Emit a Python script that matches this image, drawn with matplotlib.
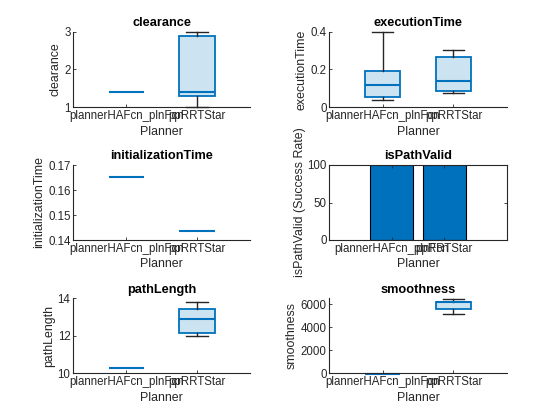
import matplotlib
matplotlib.use("Agg")
import matplotlib.pyplot as plt

plt.rcParams['font.family'] = ['Liberation Sans', 'DejaVu Sans']

planners = ["plannerHAFcn_plnFcn", "ppRRTStar"]

# box stats per metric: [min, q1, median, q3, max] per planner
clearance_stats = [[1.4, 1.4, 1.4, 1.4, 1.4], [1.0, 1.29, 1.40, 2.88, 3.0]]
execution_stats = [[0.037, 0.055, 0.12, 0.194, 0.40], [0.077, 0.086, 0.139, 0.268, 0.303]]
init_stats = [[0.1653, 0.1653, 0.1653, 0.1653, 0.1653], [0.1436, 0.1436, 0.1436, 0.1436, 0.1436]]
pathlength_stats = [[10.29, 10.29, 10.29, 10.29, 10.29], [11.99, 12.14, 12.89, 13.43, 13.81]]
smoothness_stats = [[-30, -30, -30, -30, -30], [5143, 5540, 6150, 6220, 6480]]
success_rate = [100, 100]

W, H = 560, 420
fig = plt.figure(figsize=(W / 100, H / 100), dpi=100)

BLUE = '#0072BD'
FACE = '#CCE3F2'
AXC = '#262626'
FS = 8.3
LFS = 8.9
TFS = 9.2


def make_ax(x0, x1, y0, y1):
    return fig.add_axes([x0 / W, 1 - y1 / H, (x1 - x0) / W, (y1 - y0) / H])


def style(ax, box=False):
    for s in ['left', 'bottom', 'top', 'right']:
        ax.spines[s].set_color(AXC)
        ax.spines[s].set_linewidth(0.8)
    if not box:
        ax.spines['top'].set_visible(False)
        ax.spines['right'].set_visible(False)
    ax.tick_params(direction='in', length=2.5, width=0.6, colors=AXC,
                   labelsize=FS, pad=2, top=box, right=box)
    ax.set_xticks([1, 2])
    ax.set_xticklabels(planners)
    ax.set_xlabel('Planner', fontsize=LFS, color=AXC, labelpad=2.5)


def boxpanel(ax, stats, title, ylim, yticks, yticklabels):
    for i, st in enumerate(stats):
        mn, q1, med, q3, mx = st
        d = dict(whislo=mn, q1=q1, med=med, q3=q3, whishi=mx, fliers=[])
        degenerate = (mn == mx)
        ax.bxp([d], positions=[i + 1], widths=0.5, capwidths=0.3,
               showcaps=not degenerate, patch_artist=True,
               boxprops=dict(facecolor=FACE if not degenerate else BLUE,
                             edgecolor=BLUE, linewidth=1.3),
               medianprops=dict(color=BLUE, linewidth=1.5),
               whiskerprops=dict(color=AXC, linewidth=1.0),
               capprops=dict(color=AXC, linewidth=1.0),
               manage_ticks=False)
    for art in ax.patches + ax.lines:
        art.set_clip_on(False)
    ax.set_xlim(0.25, 2.75)
    ax.set_ylim(*ylim)
    ax.set_yticks(yticks)
    ax.set_yticklabels(yticklabels)
    style(ax)
    ax.set_title(title, fontsize=TFS, fontweight='bold', pad=4)
    ax.set_ylabel(title, fontsize=LFS, color=AXC, labelpad=2)


LX0, LX1 = 73.3, 250
RX0, RX1 = 329.3, 506.7
rows = [(31.7, 107.3), (165, 240), (298.3, 373.3)]

ax1 = make_ax(LX0, LX1, *rows[0])
boxpanel(ax1, clearance_stats, 'clearance', (1, 3), [1, 2, 3], ['1', '2', '3'])

ax2 = make_ax(RX0, RX1, *rows[0])
boxpanel(ax2, execution_stats, 'executionTime', (0, 0.4), [0, 0.2, 0.4], ['0', '0.2', '0.4'])

ax3 = make_ax(LX0, LX1, *rows[1])
boxpanel(ax3, init_stats, 'initializationTime', (0.14, 0.17),
         [0.14, 0.15, 0.16, 0.17], ['0.14', '0.15', '0.16', '0.17'])

ax4 = make_ax(RX0, RX1, *rows[1])
ax4.bar([1, 2], success_rate, width=0.8, color=BLUE, edgecolor='black', linewidth=0.8)
ax4.set_xlim(-0.18, 3.18)
ax4.set_ylim(0, 100)
ax4.set_yticks([0, 50, 100])
style(ax4, box=True)
ax4.set_title('isPathValid', fontsize=TFS, fontweight='bold', pad=4)
ax4.set_ylabel('isPathValid (Success Rate)', fontsize=LFS, color=AXC, labelpad=1)

ax5 = make_ax(LX0, LX1, *rows[2])
boxpanel(ax5, pathlength_stats, 'pathLength', (10, 14), [10, 12, 14], ['10', '12', '14'])

ax6 = make_ax(RX0, RX1, *rows[2])
boxpanel(ax6, smoothness_stats, 'smoothness', (0, 6500), [0, 2000, 4000, 6000],
         ['0', '2000', '4000', '6000'])

fig.savefig('out.png', dpi=100)
